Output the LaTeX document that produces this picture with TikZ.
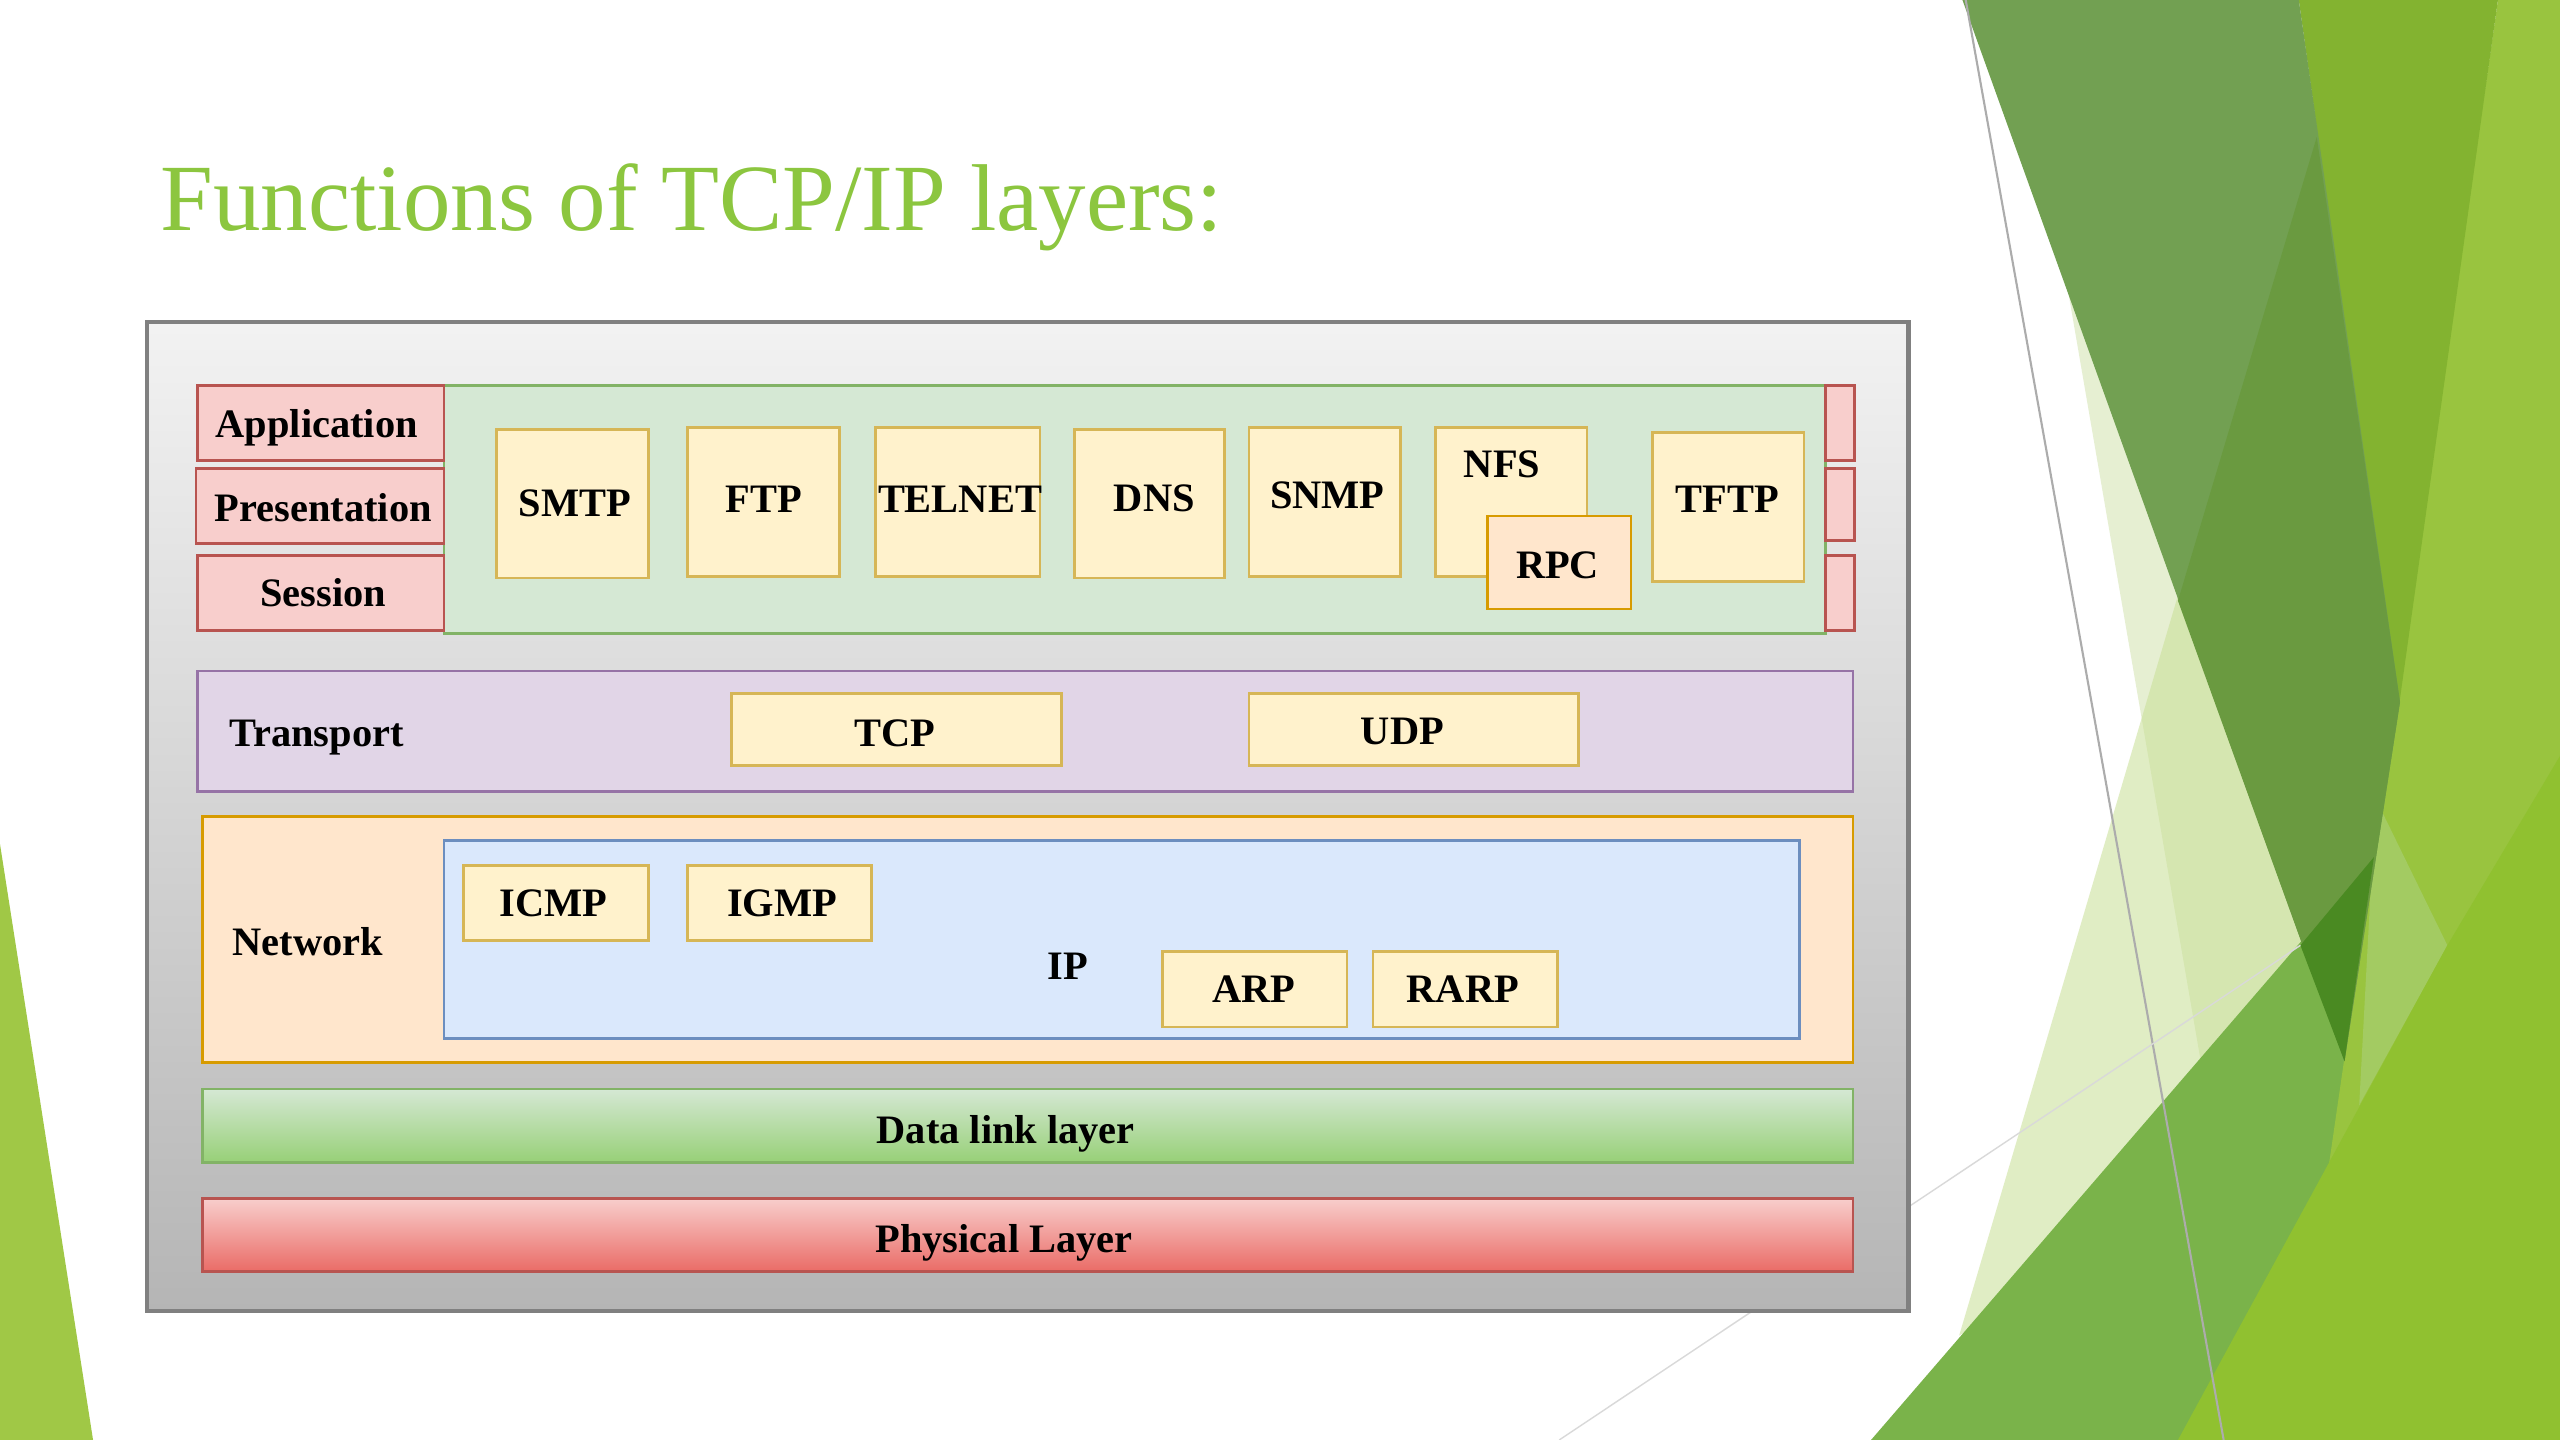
\documentclass[tikz,border=0pt]{standalone}
\usepackage{fontspec}
\setmainfont{Liberation Serif}
\usetikzlibrary{fit}
\definecolor{titlegreen}{RGB}{140,198,63}
\definecolor{pinkfill}{HTML}{F8CECC}
\definecolor{pinkdraw}{HTML}{B85450}
\definecolor{greenfill}{HTML}{D5E8D4}
\definecolor{greendraw}{HTML}{82B366}
\definecolor{yelfill}{HTML}{FFF2CC}
\definecolor{yeldraw}{HTML}{D6B656}
\definecolor{peachfill}{HTML}{FFE6CC}
\definecolor{peachdraw}{HTML}{D79B00}
\definecolor{purpfill}{HTML}{E1D5E7}
\definecolor{purpdraw}{HTML}{9673A6}
\definecolor{bluefill}{HTML}{DAE8FC}
\definecolor{bluedraw}{HTML}{6C8EBF}
\definecolor{dlbottom}{HTML}{97D077}
\definecolor{phbottom}{HTML}{EA6B66}
\definecolor{bgdark}{HTML}{72A052}
\definecolor{bgdarker}{HTML}{6A9A40}
\definecolor{bgdeep}{HTML}{4A8A22}
\definecolor{bgbright}{HTML}{83B330}
\definecolor{bglight}{HTML}{99C43F}
\definecolor{bgpatch}{HTML}{A3CB62}
\definecolor{bgstrip}{HTML}{E6EFD2}
\definecolor{bgpale}{HTML}{C8DF95}
\definecolor{bgmed}{HTML}{7AB34A}
\definecolor{bgyel}{HTML}{90C130}
\definecolor{bgleft}{HTML}{A0C846}
\tikzset{
  box/.style={draw, inner sep=0pt, line width=0.8pt},
  pinkbox/.style={box, fill=pinkfill, draw=pinkdraw},
  greenbox/.style={box, fill=greenfill, draw=greendraw},
  yelbox/.style={box, fill=yelfill, draw=yeldraw},
  peachbox/.style={box, fill=peachfill, draw=peachdraw},
  purpbox/.style={box, fill=purpfill, draw=purpdraw},
  bluebox/.style={box, fill=bluefill, draw=bluedraw},
  lbl/.style={inner sep=0pt, text height=7.6pt, text depth=0pt, font=\fontsize{11.5}{13}\selectfont\bfseries}
}
\begin{document}
\begin{tikzpicture}[x=0.016327cm,y=-0.016327cm]
\useasboundingbox (0,0) rectangle (1568,882);
\fill[white] (0,0) rectangle (1568,882);
% background decoration
\fill[bgleft] (0,517) -- (57,882) -- (0,882) -- cycle;
\fill[bgstrip] (1236,0) -- (1300,0) -- (1480,650) -- (1360,720) -- cycle;
\fill[bgpale, opacity=0.55] (1430,40) -- (1200,818) -- (1450,660) -- cycle;
\fill[bgmed] (1146,882) -- (1454,525) -- (1568,393) -- (1568,882) -- cycle;
\fill[bglight] (1530,0) -- (1568,0) -- (1568,882) -- (1402,882) -- cycle;
\fill[bgpatch] (1455,489) -- (1499,579) -- (1445,677) -- cycle;
\fill[bgbright] (1408,0) -- (1530,0) -- (1469,435) -- cycle;
\fill[bgdark] (1202,0) -- (1408,0) -- (1470,430) -- (1436,650) -- cycle;
\fill[bgdarker] (1419,84) -- (1470,430) -- (1436,650) -- (1334,368) -- cycle;
\fill[bgdeep] (1409,579) -- (1454,525) -- (1436,650) -- cycle;
\fill[bgyel] (1334,882) -- (1499,579) -- (1568,463) -- (1568,882) -- cycle;
\draw[gray!65, line width=0.6pt] (1204,0) -- (1362,882);
\draw[gray!30, line width=0.4pt] (955,882) -- (1409,579);
% title
\node[anchor=base west, inner sep=0pt, text=titlegreen, font=\fontsize{27}{32}\selectfont] (title) at (98,141) {Functions of TCP/IP layers:};
% outer box
\node[draw=black!50, line width=1.2pt, top color=black!5, bottom color=black!29, inner sep=0pt, fit={(90,197)(1169,803)}] (outer) {};
% application block
\node[greenbox, fit={(272,236)(1118,388)}] (appblock) {};
\node[pinkbox, fit={(121,236)(272,282)}] (app) {};
\node[lbl] (apptxt) at (194,260) {Application};
\node[pinkbox, fit={(120,287)(272,333)}] (pres) {};
\node[lbl] (prestxt) at (198,311) {Presentation};
\node[pinkbox, fit={(121,340)(272,386)}] (sess) {};
\node[lbl] (sesstxt) at (198,363) {Session};
\node[pinkbox, fit={(1118,236)(1136,282)}] (r1) {};
\node[pinkbox, fit={(1118,287)(1136,331)}] (r2) {};
\node[pinkbox, fit={(1118,340)(1136,386)}] (r3) {};
\node[yelbox, fit={(304,263)(397,354)}] (smtp) {};
\node[lbl] (smtptxt) at (352,308) {SMTP};
\node[yelbox, fit={(421,262)(514,353)}] (ftp) {};
\node[lbl] (ftptxt) at (468,306) {FTP};
\node[yelbox, fit={(536,262)(637,353)}] (telnet) {};
\node[lbl] (telnettxt) at (588,306) {TELNET};
\node[yelbox, fit={(658,263)(750,354)}] (dns) {};
\node[lbl] (dnstxt) at (707,305) {DNS};
\node[yelbox, fit={(765,262)(858,353)}] (snmp) {};
\node[lbl] (snmptxt) at (813,303) {SNMP};
\node[yelbox, fit={(879,262)(972,353)}] (nfs) {};
\node[lbl] (nfslbl) at (920,284) {NFS};
\node[peachbox, fit={(911,316)(999,373)}] (rpc) {};
\node[lbl] (rpctxt) at (954,346) {RPC};
\node[yelbox, fit={(1012,265)(1105,356)}] (tftp) {};
\node[lbl] (tftptxt) at (1058,306) {TFTP};
% transport
\node[purpbox, fit={(121,411)(1135,485)}] (transport) {};
\node[lbl, anchor=west] (translbl) at (140,449) {Transport};
\node[yelbox, fit={(448,425)(650,469)}] (tcp) {};
\node[lbl] (tcptxt) at (548,449) {TCP};
\node[yelbox, fit={(765,425)(967,469)}] (udp) {};
\node[lbl] (udptxt) at (859,448) {UDP};
% network
\node[peachbox, fit={(124,500)(1135,651)}] (network) {};
\node[lbl, anchor=west] (netlbl) at (142,577) {Network};
\node[bluebox, fit={(272,515)(1102,636)}] (ip) {};
\node[lbl] (iplbl) at (654,592) {IP};
\node[yelbox, fit={(284,530)(397,576)}] (icmp) {};
\node[lbl] (icmptxt) at (339,553) {ICMP};
\node[yelbox, fit={(421,530)(534,576)}] (igmp) {};
\node[lbl] (igmptxt) at (479,553) {IGMP};
\node[yelbox, fit={(712,583)(825,629)}] (arp) {};
\node[lbl] (arptxt) at (768,606) {ARP};
\node[yelbox, fit={(841,583)(954,629)}] (rarp) {};
\node[lbl] (rarptxt) at (896,606) {RARP};
% data link & physical
\node[box, draw=greendraw, top color=greenfill, bottom color=dlbottom, fit={(124,667)(1135,712)}] (datalink) {};
\node[lbl] (dltxt) at (616,692) {Data link layer};
\node[box, draw=pinkdraw, top color=pinkfill, bottom color=phbottom, fit={(124,734)(1135,779)}] (physical) {};
\node[lbl] (phtxt) at (615,759) {Physical Layer};
\end{tikzpicture}
\end{document}
